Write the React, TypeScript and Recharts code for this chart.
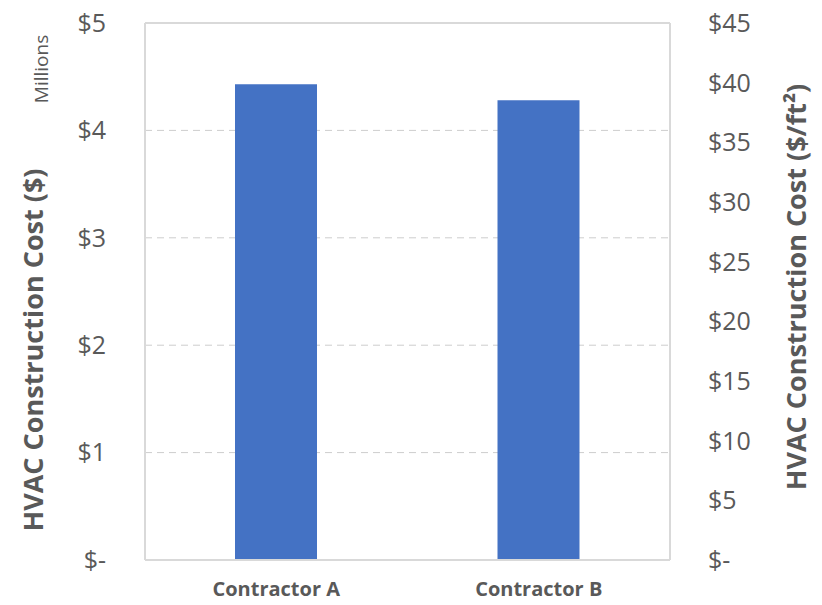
import { BarChart, Bar, XAxis, YAxis, CartesianGrid, ReferenceLine } from "recharts";

const contractors = ["Contractor A", "Contractor B"];
const costMillions = [4.43, 4.28];
const leftTicks = [0, 1, 2, 3, 4, 5];
const rightTicks = [0, 5, 10, 15, 20, 25, 30, 35, 40, 45];

const data = contractors.map((name, i) => ({ name, cost: costMillions[i] }));

const GREY = "#595959";
const LINE = "#d9d9d9";
const FONT = "'Open Sans', sans-serif";

const money = (v: number) => (v === 0 ? "$-" : `$${v}`);

export default function App() {
  return (
    <div style={{ position: "absolute", left: 0, top: 0, width: 822, height: 605, background: "#fff", fontFamily: FONT }}>
      <BarChart
        width={822}
        height={605}
        data={data}
        margin={{ top: 23, right: 0, bottom: 0, left: 0 }}
        barSize={82}
      >
        <CartesianGrid vertical={false} stroke="#cdcdcd" strokeDasharray="7 5" yAxisId="left" />
        <XAxis
          dataKey="name"
          height={45}
          axisLine={{ stroke: LINE, strokeWidth: 2 }}
          tickLine={false}
          tickSize={0}
          tickMargin={22}
          tick={{ fill: GREY, fontSize: 20, fontWeight: 700, fontFamily: FONT }}
        />
        <YAxis
          yAxisId="left"
          orientation="left"
          width={145}
          domain={[0, 5]}
          ticks={leftTicks}
          tickFormatter={money}
          axisLine={{ stroke: LINE, strokeWidth: 2 }}
          tickLine={false}
          tickSize={0}
          tickMargin={39}
          tick={{ fill: GREY, fontSize: 25, fontFamily: FONT }}
        />
        <YAxis
          yAxisId="right"
          orientation="right"
          width={152}
          type="number"
          domain={[0, 45]}
          ticks={rightTicks}
          allowDataOverflow
          tickFormatter={money}
          axisLine={{ stroke: LINE, strokeWidth: 2 }}
          tickLine={false}
          tickSize={0}
          tickMargin={38}
          tick={{ fill: GREY, fontSize: 25, fontFamily: FONT, textAnchor: "start" }}
        />
        <ReferenceLine yAxisId="left" y={5} stroke={LINE} strokeWidth={2} />
        <Bar yAxisId="left" dataKey="cost" fill="#4472C4" isAnimationActive={false} />
      </BarChart>

      <div
        style={{
          position: "absolute",
          left: 32,
          top: 350,
          transform: "translate(-50%, -50%) rotate(-90deg)",
          whiteSpace: "nowrap",
          fontSize: 27,
          fontWeight: 700,
          color: GREY,
        }}
      >
        HVAC Construction Cost ($)
      </div>
      <div
        style={{
          position: "absolute",
          left: 41,
          top: 69,
          transform: "translate(-50%, -50%) rotate(-90deg)",
          whiteSpace: "nowrap",
          fontSize: 19,
          color: GREY,
        }}
      >
        Millions
      </div>
      <div
        style={{
          position: "absolute",
          left: 795,
          top: 287,
          transform: "translate(-50%, -50%) rotate(-90deg)",
          whiteSpace: "nowrap",
          fontSize: 27,
          fontWeight: 700,
          color: GREY,
        }}
      >
        HVAC Construction Cost ($/ft²)
      </div>
    </div>
  );
}
